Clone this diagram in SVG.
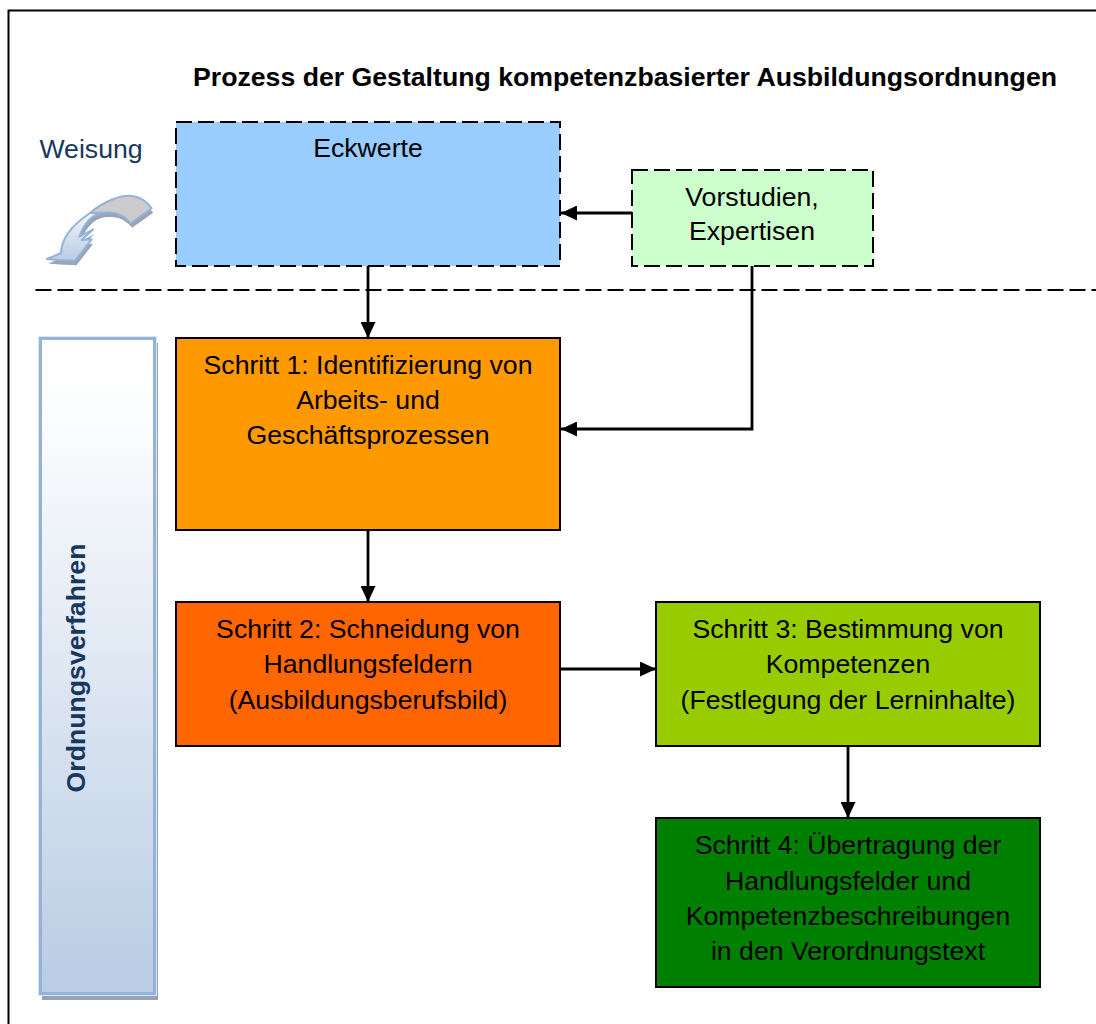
<svg xmlns="http://www.w3.org/2000/svg" width="1096" height="1024" viewBox="0 0 1096 1024">
<defs>
<linearGradient id="band" x1="0" y1="0" x2="0" y2="1"><stop offset="0" stop-color="#ffffff"/><stop offset="0.12" stop-color="#fcfdfe"/><stop offset="1" stop-color="#b9cce4"/></linearGradient>
<linearGradient id="arr" x1="0" y1="0" x2="0" y2="1"><stop offset="0" stop-color="#f2f5fa"/><stop offset="1" stop-color="#b9cce4"/></linearGradient>
<marker id="ah" markerUnits="userSpaceOnUse" markerWidth="16" markerHeight="15" refX="16" refY="7.5" orient="auto"><path d="M0,0L16,7.5L0,15Z" fill="#000"/></marker>
<path id="curl" d="M46.7,259L60.7,253.3C62,240 68,228 90,213C105,200 122,195 132,196C141,197 147,202 151.7,208.3L130.7,223.3C122,213 114,212 103.3,212.7C92,214 84,224 79.3,236.7L93.3,229.3L81.7,240L91.7,239.3L75,260.7L58.3,260Z"/>
</defs>
<style>
text{font-family:"Liberation Sans",Arial,sans-serif;font-size:26.67px;fill:#000;text-anchor:middle}
.box{stroke:#000;stroke-width:2}
.dash{stroke-dasharray:16 6}
.ca{fill:none;stroke:#000;stroke-width:2.8;marker-end:url(#ah)}
</style>
<rect x="8.5" y="10.5" width="1120" height="1040" fill="#fff" stroke="#000" stroke-width="2"/>
<text id="title" x="625" y="86" style="font-weight:bold">Prozess der Gestaltung kompetenzbasierter Ausbildungsordnungen</text>
<g id="weisung">
<text x="91" y="158" style="fill:#17375e">Weisung</text>
<use href="#curl" x="1.5" y="4.5" fill="#96a5b8"/>
<path d="M90,213C105,200 122,195 132,196C141,197 147,202 151.7,208.3L130.7,223.3C122,213 114,212 103.3,212.7C98,213 93,215 90,218Z" fill="#cccccc" stroke="#95b3d7" stroke-width="2" stroke-linejoin="round"/>
<path d="M46.7,259L60.7,253.3C62,240 68,228 90,213L103.3,212.7C92,214 84,224 79.3,236.7L93.3,229.3L81.7,240L91.7,239.3L75,260.7L58.3,260Z" fill="url(#arr)" stroke="#95b3d7" stroke-width="2" stroke-linejoin="round"/>
</g>
<line x1="35.5" y1="290" x2="1096" y2="290" stroke="#000" stroke-width="2" stroke-dasharray="16 6"/>
<g id="connectors">
<path class="ca" d="M368,266V338"/>
<path class="ca" d="M632,213H561"/>
<path class="ca" d="M752,266V429H561"/>
<path class="ca" d="M368,530V602"/>
<path class="ca" d="M561,669H656"/>
<path class="ca" d="M848,746V818"/>
</g>
<g id="ordnungsverfahren">
<rect x="42" y="343" width="116" height="657" fill="#95a3b8"/>
<rect x="38.5" y="336.5" width="118" height="659" fill="none" stroke="#dce6f2" stroke-width="1"/>
<rect x="40.5" y="338.5" width="114" height="655" fill="url(#band)" stroke="#95b3d7" stroke-width="3"/>
<text transform="translate(85,668) rotate(-90)" style="font-weight:bold;fill:#17375e">Ordnungsverfahren</text>
</g>
<g id="eckwerte">
<rect class="box dash" x="176" y="122" width="384" height="144" fill="#99ccff"/>
<text x="368" y="157">Eckwerte</text>
</g>
<g id="vorstudien">
<rect class="box dash" x="632" y="170" width="241" height="96" fill="#ccffcc"/>
<text x="752" y="206">Vorstudien,</text>
<text x="752" y="240">Expertisen</text>
</g>
<g id="schritt1">
<rect class="box" x="176" y="338" width="384" height="192" fill="#ff9900"/>
<text x="368" y="374">Schritt 1: Identifizierung von</text>
<text x="368" y="409">Arbeits- und</text>
<text x="368" y="444">Geschäftsprozessen</text>
</g>
<g id="schritt2">
<rect class="box" x="176" y="602" width="384" height="144" fill="#ff6600"/>
<text x="368" y="638">Schritt 2: Schneidung von</text>
<text x="368" y="673">Handlungsfeldern</text>
<text x="368" y="709">(Ausbildungsberufsbild)</text>
</g>
<g id="schritt3">
<rect class="box" x="656" y="602" width="384" height="144" fill="#99cc00"/>
<text x="848" y="638">Schritt 3: Bestimmung von</text>
<text x="848" y="673">Kompetenzen</text>
<text x="848" y="709">(Festlegung der Lerninhalte)</text>
</g>
<g id="schritt4">
<rect class="box" x="656" y="818" width="384" height="169" fill="#008000"/>
<text x="848" y="854">Schritt 4: Übertragung der</text>
<text x="848" y="890">Handlungsfelder und</text>
<text x="848" y="925">Kompetenzbeschreibungen</text>
<text x="848" y="960">in den Verordnungstext</text>
</g>
</svg>
